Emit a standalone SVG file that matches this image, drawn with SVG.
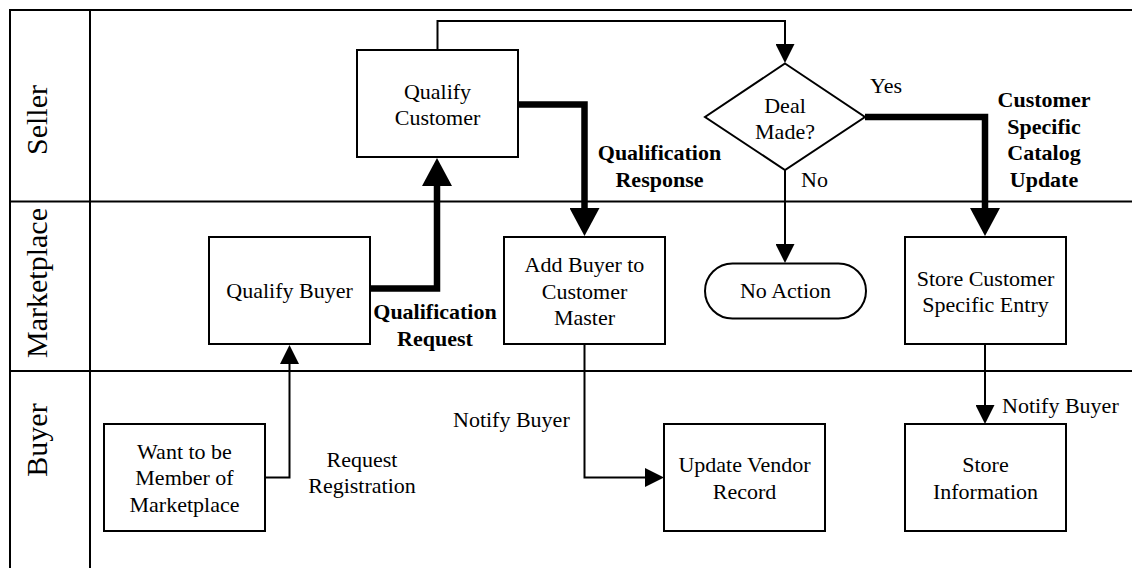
<svg xmlns="http://www.w3.org/2000/svg" width="1132" height="568" viewBox="0 0 1132 568">
  <style>
    .frame { fill: none; stroke: #000; stroke-width: 2; }
    .box { fill: #fff; stroke: #000; stroke-width: 2; }
    .label { font-family: "Liberation Serif", "Times New Roman", serif; font-size: 22px; fill: #000; text-anchor: middle; }
    .bold { font-weight: bold; }
    .start { text-anchor: start; }
    .lane { font-family: "Liberation Serif", "Times New Roman", serif; font-size: 30px; fill: #000; text-anchor: middle; }
    .flow { fill: none; stroke: #000; stroke-width: 2; stroke-linejoin: miter; }
    .heavy { fill: none; stroke: #000; stroke-width: 6.5; stroke-linejoin: miter; }
  </style>
  <defs>
    <marker id="arrow" markerUnits="userSpaceOnUse" viewBox="0 0 19 19" markerWidth="19" markerHeight="19" refX="0" refY="9.5" orient="auto">
      <path d="M0,0 L19,9.5 L0,19 Z" fill="#000"/>
    </marker>
    <marker id="arrow-heavy" markerUnits="userSpaceOnUse" viewBox="0 0 28 30" markerWidth="28" markerHeight="30" refX="0" refY="15" orient="auto">
      <path d="M0,0 L28,15 L0,30 Z" fill="#000"/>
    </marker>
  </defs>

  <rect width="1132" height="568" fill="#fff"/>

  <!-- swimlane frame -->
  <g id="lanes">
    <path class="frame" d="M10,10 H1132 M10,201.5 H1132 M10,371 H1132 M10,9 V568 M90,10 V568"/>
    <text class="lane" transform="translate(47,120) rotate(-90)">Seller</text>
    <text class="lane" transform="translate(47,283) rotate(-90)">Marketplace</text>
    <text class="lane" transform="translate(47,440) rotate(-90)">Buyer</text>
  </g>

  <!-- connectors -->
  <g id="connectors">
    <path class="flow" d="M265,477.5 H289.5 V364" marker-end="url(#arrow)"/>
    <path class="heavy" d="M370,288.5 H437 V186" marker-end="url(#arrow-heavy)"/>
    <path class="flow" d="M437.5,50 V21 H785 V44" marker-end="url(#arrow)"/>
    <path class="heavy" d="M518,104.5 H584.5 V208" marker-end="url(#arrow-heavy)"/>
    <path class="flow" d="M785,170 V244" marker-end="url(#arrow)"/>
    <path class="heavy" d="M865,117 H985 V208" marker-end="url(#arrow-heavy)"/>
    <path class="flow" d="M584.5,344 V477.5 H645" marker-end="url(#arrow)"/>
    <path class="flow" d="M985,344 V405" marker-end="url(#arrow)"/>

    <text class="label bold"><tspan x="435" y="319">Qualification</tspan><tspan x="435" y="346">Request</tspan></text>
    <text class="label bold"><tspan x="659.5" y="160">Qualification</tspan><tspan x="659.5" y="187">Response</tspan></text>
    <text class="label bold"><tspan x="1044" y="107">Customer</tspan><tspan x="1044" y="133.5">Specific</tspan><tspan x="1044" y="160">Catalog</tspan><tspan x="1044" y="187">Update</tspan></text>
    <text class="label start" x="870" y="93">Yes</text>
    <text class="label start" x="801" y="187">No</text>
    <text class="label start" x="453" y="427">Notify Buyer</text>
    <text class="label start" x="1002" y="413">Notify Buyer</text>
    <text class="label"><tspan x="362" y="467">Request</tspan><tspan x="362" y="493">Registration</tspan></text>
  </g>

  <!-- Seller lane -->
  <g id="qualify-customer">
    <rect class="box" x="357" y="50" width="161" height="107"/>
    <text class="label"><tspan x="437.5" y="98.5">Qualify</tspan><tspan x="437.5" y="124.5">Customer</tspan></text>
  </g>
  <g id="deal-made">
    <polygon class="box" points="785,63.5 865,117 785,170 705,117"/>
    <text class="label"><tspan x="785" y="113">Deal</tspan><tspan x="785" y="139">Made?</tspan></text>
  </g>

  <!-- Marketplace lane -->
  <g id="qualify-buyer">
    <rect class="box" x="209" y="237" width="161" height="107"/>
    <text class="label" x="289.5" y="298">Qualify Buyer</text>
  </g>
  <g id="add-buyer">
    <rect class="box" x="504" y="237" width="161" height="107"/>
    <text class="label"><tspan x="584.5" y="271.5">Add Buyer to</tspan><tspan x="584.5" y="298.5">Customer</tspan><tspan x="584.5" y="325">Master</tspan></text>
  </g>
  <g id="no-action">
    <rect class="box" x="705" y="263.5" width="161" height="55" rx="27.5" ry="27.5"/>
    <text class="label" x="785.5" y="298">No Action</text>
  </g>
  <g id="store-customer-entry">
    <rect class="box" x="905" y="237" width="161" height="107"/>
    <text class="label"><tspan x="985.5" y="286">Store Customer</tspan><tspan x="985.5" y="311.5">Specific Entry</tspan></text>
  </g>

  <!-- Buyer lane -->
  <g id="want-member">
    <rect class="box" x="104" y="424" width="161" height="107"/>
    <text class="label"><tspan x="184.5" y="458.5">Want to be</tspan><tspan x="184.5" y="485">Member of</tspan><tspan x="184.5" y="511.5">Marketplace</tspan></text>
  </g>
  <g id="update-vendor">
    <rect class="box" x="664" y="424" width="161" height="107"/>
    <text class="label"><tspan x="744.5" y="472">Update Vendor</tspan><tspan x="744.5" y="498.5">Record</tspan></text>
  </g>
  <g id="store-information">
    <rect class="box" x="905" y="424" width="161" height="107"/>
    <text class="label"><tspan x="985.5" y="472">Store</tspan><tspan x="985.5" y="498.5">Information</tspan></text>
  </g>
</svg>
